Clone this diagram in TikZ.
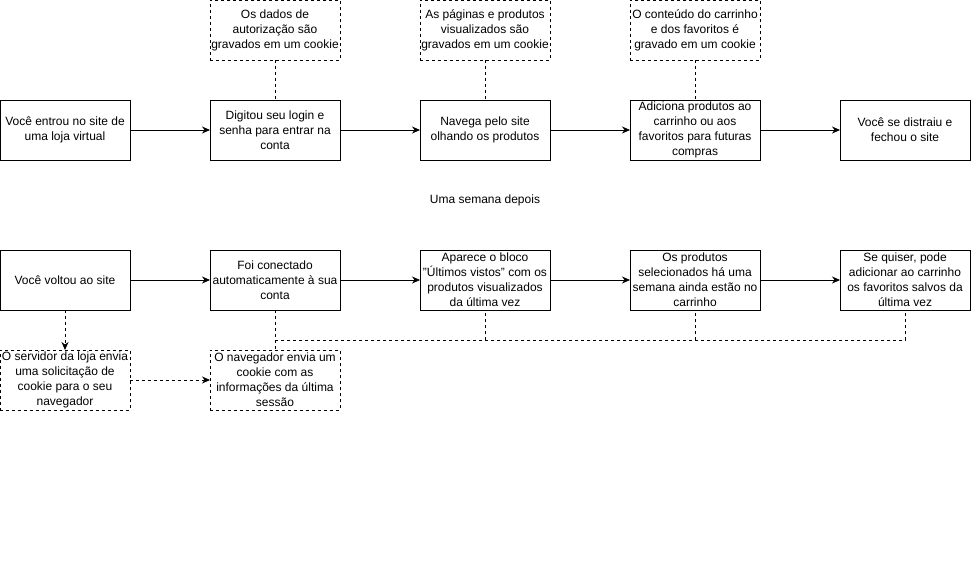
\documentclass[tikz,border=0pt]{standalone}
\usepackage{fontspec}
\setmainfont{Liberation Sans}
\usetikzlibrary{arrows.meta, positioning, calc}
\tikzstyle{etapa} = [draw=black, line width=0.8pt, rectangle, minimum width=130pt, minimum height=60pt, inner sep=1pt, outer sep=0pt, align=center, font=\fontsize{12}{15}\selectfont]
\tikzstyle{cookie} = [etapa, dash pattern=on 3pt off 3pt]
\tikzstyle{passo} = [draw=black, line width=0.8pt, -{Stealth[length=8pt,width=7pt]}]
\tikzstyle{ligacao} = [draw=black, line width=0.8pt, dash pattern=on 3pt off 3pt]

\begin{document}
\begin{tikzpicture}[x=1pt, y=-1pt, node distance=80pt]
	\useasboundingbox (0,0) rectangle (971,579);
	% primeira visita
	\node [etapa] (a1) at (65,130) {Você entrou no site de\\uma loja virtual};
	\node [etapa, right=of a1] (a2) {Digitou seu login e\\senha para entrar na\\conta};
	\node [etapa, right=of a2] (a3) {Navega pelo site\\olhando os produtos};
	\node [etapa, right=of a3] (a4) {Adiciona produtos ao\\carrinho ou aos\\favoritos para futuras\\compras};
	\node [etapa, right=of a4] (a5) {Você se distraiu e\\fechou o site};
	\node [cookie, above=40pt of a2] (k2) {Os dados de\\autorização são\\gravados em um cookie};
	\node [cookie, above=40pt of a3] (k3) {As páginas e produtos\\visualizados são\\gravados em um cookie};
	\node [cookie, above=40pt of a4] (k4) {O conteúdo do carrinho\\e dos favoritos é\\gravado em um cookie};
	\draw [passo] (a1) -- (a2);
	\draw [passo] (a2) -- (a3);
	\draw [passo] (a3) -- (a4);
	\draw [passo] (a4) -- (a5);
	\draw [ligacao] (k2) -- (a2);
	\draw [ligacao] (k3) -- (a3);
	\draw [ligacao] (k4) -- (a4);

	\node [font=\fontsize{12}{15}\selectfont, below=40pt of a3, anchor=center] (semana) {Uma semana depois};

	% segunda visita
	\node [etapa, below=90pt of a1] (b1) {Você voltou ao site};
	\node [etapa, right=of b1] (b2) {Foi conectado\\automaticamente à sua\\conta};
	\node [etapa, right=of b2] (b3) {Aparece o bloco\\"Últimos vistos" com os\\produtos visualizados\\da última vez};
	\node [etapa, right=of b3] (b4) {Os produtos\\selecionados há uma\\semana ainda estão no\\carrinho};
	\node [etapa, right=of b4] (b5) {Se quiser, pode\\adicionar ao carrinho\\os favoritos salvos da\\última vez};
	\node [cookie, below=40pt of b1] (s1) {O servidor da loja envia\\uma solicitação de\\cookie para o seu\\navegador};
	\node [cookie, below=40pt of b2] (s2) {O navegador envia um\\cookie com as\\informações da última\\sessão};
	\draw [passo] (b1) -- (b2);
	\draw [passo] (b2) -- (b3);
	\draw [passo] (b3) -- (b4);
	\draw [passo] (b4) -- (b5);
	\draw [passo, dash pattern=on 3pt off 3pt] (b1) -- (s1);
	\draw [passo, dash pattern=on 3pt off 3pt] (s1) -- (s2);
	\coordinate (barra) at ($(b2.south)!0.75!(s2.north)$);
	\draw [ligacao] (b2.south) -- (s2.north);
	\draw [ligacao] (barra) -| (b3.south);
	\draw [ligacao] (barra) -| (b4.south);
	\draw [ligacao] (barra) -| (b5.south);
\end{tikzpicture}
\end{document}
